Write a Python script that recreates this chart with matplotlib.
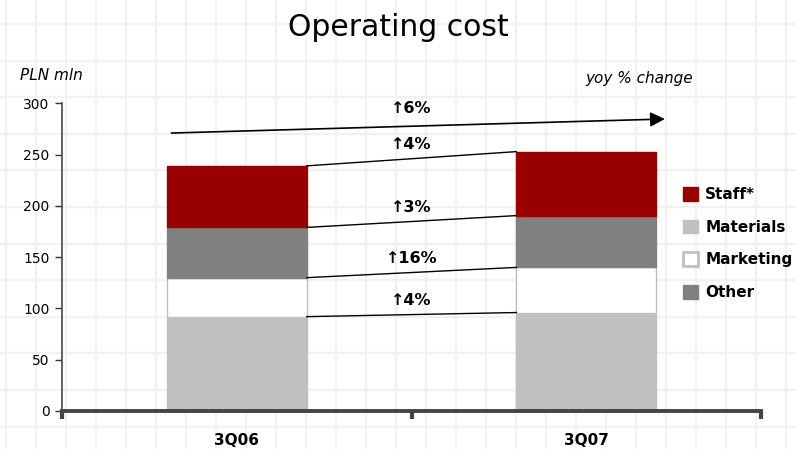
import numpy as np
import matplotlib.pyplot as plt
from matplotlib.patches import Patch

# Operating cost by component, PLN mln
quarters = ["3Q06", "3Q07"]
materials = [92, 96]
marketing = [38, 44]
other = [49, 50.5]
staff = [60, 62.4]

# year-on-year change per component (bottom to top) and for the total
growth_labels = ["↑4%", "↑16%", "↑3%", "↑4%"]
total_label = "↑6%"

series = [materials, marketing, other, staff]
colors = ["#c0c0c0", "#ffffff", "#808080", "#990000"]
edges = ["#c0c0c0", "#c0c0c0", "#808080", "#990000"]

W, H = 796, 449
fig = plt.figure(figsize=(W / 100, H / 100), dpi=100)

# squared-paper background
bg = fig.add_axes([0, 0, 1, 1])
bg.set_xlim(0, W)
bg.set_ylim(H, 0)
bg.axis("off")
for gx in np.arange(6, W, 30):
    bg.axvline(gx, color="#f1f1f1", lw=1.6, zorder=0)
for gy in np.arange(24, H, 36.6):
    bg.axhline(gy, color="#f1f1f1", lw=1.6, zorder=0)

ax = fig.add_axes([62 / W, 38 / H, (761 - 62) / W, 307.7 / H])
ax.patch.set_alpha(0)

x = np.arange(len(quarters))
width = 0.4
bottom = np.zeros(len(quarters))
tops = []
for vals, c, ec in zip(series, colors, edges):
    ax.bar(x, vals, width, bottom=bottom, color=c, edgecolor=ec, lw=1, zorder=2)
    bottom = bottom + np.array(vals)
    tops.append(bottom.copy())

# connectors between segment tops with yoy change labels
for top, lab in zip(tops, growth_labels):
    ax.plot([x[0] + width / 2, x[1] - width / 2], top, color="black", lw=1, zorder=3)
    ax.annotate(lab, xy=(0.5, top.mean()), xytext=(0, 5), textcoords="offset points",
                ha="center", va="bottom", fontsize=11.5, fontweight="bold")

# overall trend arrow
a0, a1 = (-0.187, 271), (1.225, 284.7)
ax.annotate("", xy=a1, xytext=a0, annotation_clip=False,
            arrowprops=dict(arrowstyle="-|>", mutation_scale=22, lw=1.2, color="black",
                            shrinkA=0, shrinkB=0))
ax.annotate(total_label, xy=(0.5, (a0[1] + a1[1]) / 2), xytext=(0, 7),
            textcoords="offset points", ha="center", va="bottom",
            fontsize=11.5, fontweight="bold")

ax.set_xlim(-0.5, 1.5)
ax.set_ylim(0, 300)
ax.set_yticks(np.arange(0, 301, 50))
ax.set_xticks(x)
ax.set_xticklabels(quarters, fontsize=11, fontweight="bold")
ax.set_xticks([-0.5, 0.5, 1.5], minor=True)
ax.tick_params(axis="x", which="major", length=0, pad=16)
ax.tick_params(axis="x", which="minor", length=6, width=3, color="#444")
ax.tick_params(axis="y", length=5, width=1, color="#333", labelsize=10, pad=4)

for s in ("top", "right"):
    ax.spines[s].set_visible(False)
ax.spines["left"].set_color("#555")
ax.spines["left"].set_linewidth(1.3)
ax.spines["bottom"].set_color("#444")
ax.spines["bottom"].set_linewidth(2.8)

handles = [Patch(facecolor=colors[3], edgecolor=edges[3]),
           Patch(facecolor=colors[0], edgecolor=edges[0]),
           Patch(facecolor="white", edgecolor="#c0c0c0", lw=2),
           Patch(facecolor=colors[2], edgecolor=edges[2])]
fig.legend(handles, ["Staff*", "Materials", "Marketing", "Other"],
           loc="upper left", bbox_to_anchor=(677 / W, 1 - 181 / H), frameon=False,
           prop=dict(size=11, weight="bold"), handlelength=1.0, handleheight=1.0,
           labelspacing=1.15, handletextpad=0.45, borderaxespad=0)

fig.text(0.5, 1 - 28 / H, "Operating cost", ha="center", va="center", fontsize=21.5)
fig.text(20 / W, 1 - 75 / H, "PLN mln", ha="left", va="center", fontsize=11, style="italic")
fig.text(585 / W, 1 - 78 / H, "yoy % change", ha="left", va="center", fontsize=11,
         style="italic")

fig.savefig("out.png", dpi=100)
